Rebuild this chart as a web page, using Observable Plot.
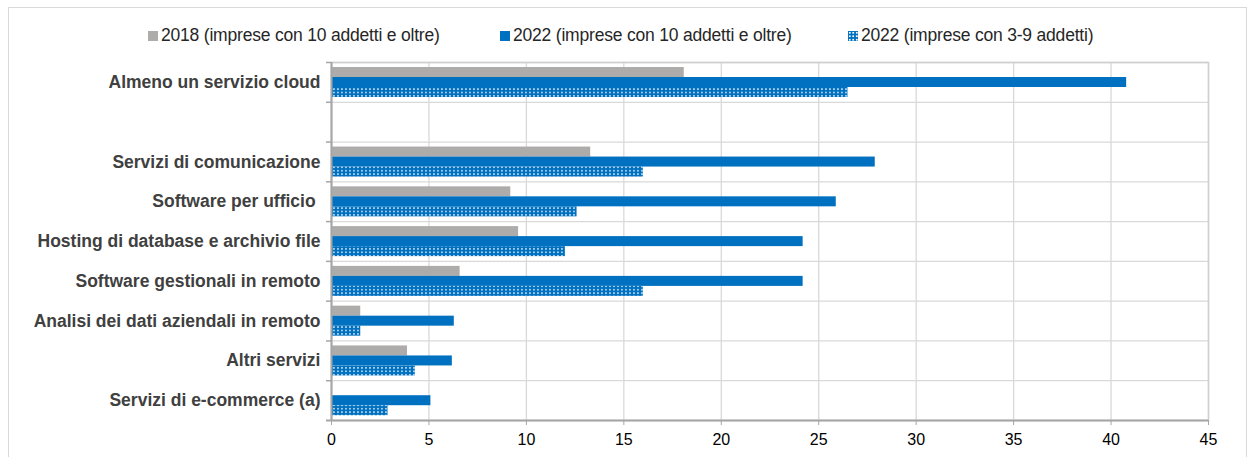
<!DOCTYPE html>
<html><head><meta charset="utf-8">
<script src="https://cdn.jsdelivr.net/npm/d3@7"></script>
<script src="https://cdn.jsdelivr.net/npm/@observablehq/plot@0.6"></script>
<style>
body{margin:0;background:#fff;}
#wrap{position:relative;width:1255px;height:457px;overflow:hidden;font-family:"Liberation Sans",Arial,sans-serif;}
#frame{position:absolute;left:8px;top:7px;width:1239px;height:470px;border:1px solid #d9d9d9;box-sizing:border-box;}
#legend{position:absolute;top:0;left:0;width:1255px;height:50px;}
.item{position:absolute;top:25px;font-size:17.5px;color:#262626;white-space:nowrap;line-height:20px;letter-spacing:-0.2px;}
.sw{display:inline-block;width:10px;height:10px;margin-right:3px;vertical-align:0px;}
#chart{position:absolute;top:50px;left:0;width:1255px;height:407px;}
#chart svg{display:block;}
</style></head>
<body>
<div id="wrap">
<div id="frame"></div>
<div id="legend"></div>
<div id="chart"></div>
</div>
<script>
const categories = ["Almeno un servizio cloud", " ", "Servizi di comunicazione", "Software per ufficio\u00a0", "Hosting di database e archivio file", "Software gestionali in remoto", "Analisi dei dati aziendali in remoto", "Altri servizi", "Servizi di e-commerce (a)"];
const seriesNames = ["2018 (imprese con 10 addetti e oltre)", "2022 (imprese con 10 addetti e oltre)", "2022 (imprese con 3-9 addetti)"];
const v2018 = [18.1, null, 13.3, 9.2, 9.6, 6.6, 1.5, 3.9, null];
const v2022 = [40.8, null, 27.9, 25.9, 24.2, 24.2, 6.3, 6.2, 5.1];
const v2022small = [26.5, null, 16.0, 12.6, 12.0, 16.0, 1.5, 4.3, 2.9];
const xTicks = [0, 5, 10, 15, 20, 25, 30, 35, 40, 45];

const colors = ["#AEABAB", "#0070C0", "url(#dots)"];
const seriesValues = [v2018, v2022, v2022small];
const legendLeft = [148, 500, 848];

// Legend
const legend = document.getElementById("legend");
seriesNames.forEach((name, i) => {
  const d = document.createElement("div");
  d.className = "item";
  d.style.left = legendLeft[i] + "px";
  const sw = document.createElement("span");
  sw.className = "sw";
  if (i < 2) sw.style.background = colors[i];
  else sw.style.background = "radial-gradient(circle at 50% 50%, #fff 0.7px, transparent 1px) 0 0/3.5px 3.5px, #0070C0";
  d.appendChild(sw);
  d.appendChild(document.createTextNode(name));
  legend.appendChild(d);
});

const rows = [];
categories.forEach((c, i) => {
  seriesValues.forEach((vals, s) => {
    if (vals[i] != null) rows.push({category: c, series: seriesNames[s], value: vals[i]});
  });
});

const W = 1255, H = 407, mT = 12, mB = 37, mL = 331, mR = 47;
const bw = (H - mT - mB) / categories.length;
const pxPerUnit = (W - mL - mR) / 45;
const tickLen = 5 / pxPerUnit;
const barH = 10, pad = 5;

const barMarks = seriesNames.map((name, s) =>
  Plot.barX(rows.filter(r => r.series === name), {
    x: "value", y: "category", fill: colors[s],
    insetTop: pad + s * barH, insetBottom: bw - pad - (s + 1) * barH
  })
);

const chart = Plot.plot({
  width: W, height: H,
  marginTop: mT, marginBottom: mB, marginLeft: mL, marginRight: mR,
  style: {fontFamily: '"Liberation Sans",Arial,sans-serif', fontSize: "16px", background: "transparent"},
  x: {domain: [0, 45], ticks: xTicks, label: null},
  y: {domain: categories, padding: 0, round: false, label: null},
  marks: [
    Plot.gridX(xTicks, {stroke: "#d9d9d9", strokeOpacity: 1, strokeWidth: 1.3}),
    Plot.ruleY(categories, {y: d => d, dy: -bw / 2, stroke: "#d9d9d9", strokeWidth: 1.3}),
    Plot.frame({stroke: "#cfcfcf", strokeWidth: 1.5}),
    ...barMarks,
    Plot.ruleY(categories, {y: d => d, dy: -bw / 2, x1: -tickLen, x2: 0, stroke: "#a6a6a6", strokeWidth: 1.5}),
    Plot.ruleY(categories.slice(-1), {y: d => d, dy: bw / 2, x1: -tickLen, x2: 45, stroke: "#a6a6a6", strokeWidth: 2}),
    Plot.ruleX([0], {stroke: "#a6a6a6", strokeWidth: 2}),
    Plot.axisX({ticks: xTicks, tickSize: 5, tickPadding: 8, stroke: "#a6a6a6", fill: "#000", fontSize: 16, label: null}),
    Plot.axisY({tickSize: 0, tickPadding: 11, fontWeight: "bold", fill: "#404040", fontSize: 17.5, label: null})
  ]
});

const defs = document.createElementNS("http://www.w3.org/2000/svg", "defs");
defs.innerHTML = '<pattern id="dots" patternUnits="userSpaceOnUse" width="4" height="3.4"><rect width="4" height="3.4" fill="#0070C0"/><rect x="1.2" y="1" width="1.5" height="1.4" fill="#fff"/></pattern>';
chart.insertBefore(defs, chart.firstChild);
document.getElementById("chart").appendChild(chart);
</script>
</body></html>
